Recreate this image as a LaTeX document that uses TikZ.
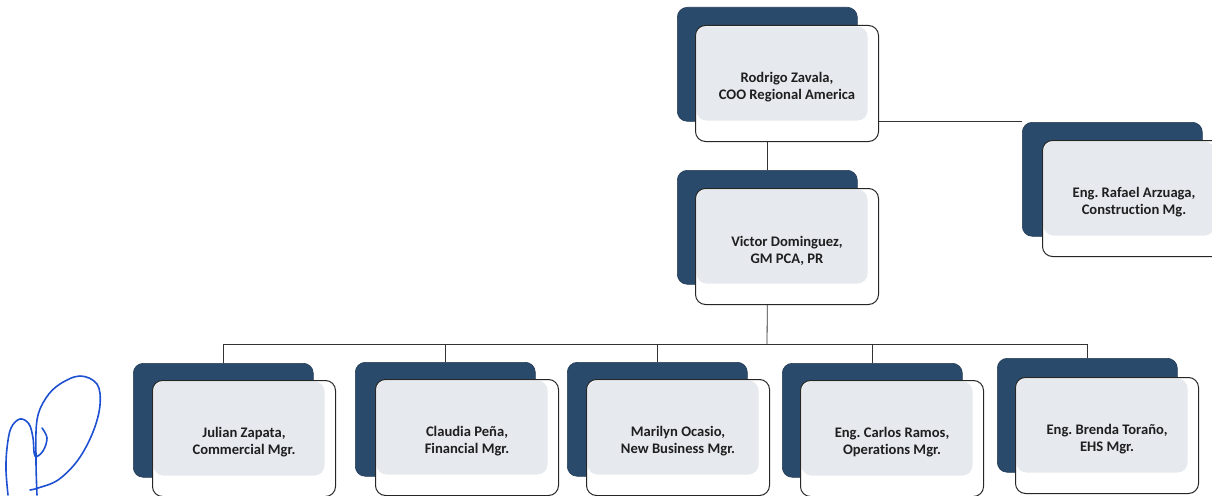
\documentclass[tikz,border=0pt]{standalone}
\usepackage{fontspec}
\setmainfont{Carlito}[Ligatures={NoCommon}]
\definecolor{cardback}{RGB}{42,74,108}
\definecolor{cardfill}{RGB}{230,234,239}
\definecolor{inkblue}{RGB}{30,80,210}
\begin{document}
\begin{tikzpicture}[x=1pt,y=-1pt,
  backbox/.style={draw=cardback!80!black,fill=cardback,rounded corners=10pt,
    minimum width=180pt,minimum height=114pt,anchor=north west,inner sep=0pt,line width=0.6pt},
  frontbox/.style={draw=black!85,line width=1pt,fill=white,rounded corners=10pt,
    minimum width=183pt,minimum height=116pt,anchor=north west,inner sep=0pt,
    path picture={\fill[cardfill] ([shift={(1pt,1pt)}]path picture bounding box.south west)
      ++(0,20pt) rectangle ([shift={(-11pt,-1pt)}]path picture bounding box.north east);}},
  cardtext/.style={align=center,font=\bfseries\fontsize{14.6}{17}\selectfont,text=black!88},
  link/.style={draw=black!80,line width=0.8pt}]
\useasboundingbox (0,0) rectangle (1212,495);

% one card: dark back plate (#1b) behind a white face (#1)
\newcommand\orgcard[6]{%
  \node[backbox] (#1b) at (#2,#3) {};
  \node[frontbox] (#1) at (#4,#5) {};
  \node[cardtext] (#1t) at ([yshift=-4pt]#1.center) {#6};}

\orgcard{coo}{677}{7}{695}{25}{Rodrigo Zavala,\\COO Regional America}
\orgcard{gm}{677}{170}{695}{188}{Victor Dominguez,\\GM PCA, PR}
\orgcard{con}{1022}{122}{1042}{140}{Eng.\ Rafael Arzuaga,\\Construction Mg.}
\orgcard{com}{133}{363}{152}{380}{Julian Zapata,\\Commercial Mgr.}
\orgcard{fin}{355}{362}{375}{379}{Claudia Peña,\\Financial Mgr.}
\orgcard{nb}{567}{362}{586}{379}{Marilyn Ocasio,\\New Business Mgr.}
\orgcard{ops}{782}{363}{800}{380}{Eng.\ Carlos Ramos,\\Operations Mgr.}
\orgcard{ehs}{997}{358}{1015}{377}{Eng.\ Brenda Toraño,\\EHS Mgr.}

% reporting lines
\coordinate (bar) at (767,344);
\path[link] (coo.south -| gmb.north) -- (gmb.north);
\path[link] (coo.east |- 0,121) -- (conb.west |- 0,121);
\path[link] (gm.south -| gmb.north) -- (bar);
\path[link] (comb.north |- bar) -- (ehsb.north |- bar);
\foreach \n in {comb,finb,nbb,opsb,ehsb}
  \path[link] (\n.north |- bar) -- (\n.north);

% signature
\draw[inkblue,line width=1.6pt,line cap=round,line join=round]
  plot[smooth,tension=0.6] coordinates {(8,495) (6,470) (7,448) (11,428) (20,419) (29,424) (33,438)
    (35,456) (43,451) (47,438) (42,428)};
\draw[inkblue,line width=1.6pt,line cap=round,line join=round]
  plot[smooth,tension=0.6] coordinates {(37,495) (36,460) (37,420) (46,398) (60,384) (80,376)
    (97,384) (100,405) (93,432) (78,460) (58,480) (38,488) (30,490)};
\end{tikzpicture}
\end{document}
